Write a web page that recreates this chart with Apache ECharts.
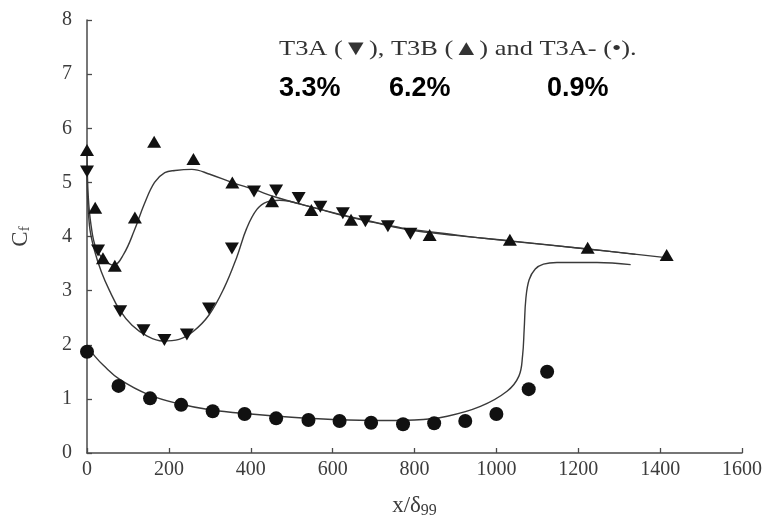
<!DOCTYPE html>
<html>
<head>
<meta charset="utf-8">
<script src="https://cdn.jsdelivr.net/npm/echarts@6/dist/echarts.min.js"></script>
<style>
  html, body { margin: 0; padding: 0; background: #fff; }
  #chart { width: 767px; height: 524px; }
</style>
</head>
<body>
<div id="chart"></div>
<script>
// Skin-friction coefficient along the plate, three inflow cases.
const xTicks = [0, 200, 400, 600, 800, 1000, 1200, 1400, 1600];
const yTicks = [0, 1, 2, 3, 4, 5, 6, 7, 8];

// Measured points [x/δ99, Cf]
const t3aPoints = [
  [0, 5.2], [27, 3.74], [81, 2.62], [138, 2.27], [189, 2.09], [244, 2.19],
  [298, 2.67], [354, 3.78], [408, 4.83], [462, 4.85], [517, 4.71], [570, 4.55],
  [625, 4.43], [680, 4.28], [735, 4.19], [790, 4.05]
];
const t3bPoints = [
  [0, 5.6], [20, 4.53], [39, 3.6], [68, 3.46], [117, 4.35], [164, 5.75],
  [260, 5.43], [355, 5.0], [452, 4.65], [548, 4.49], [645, 4.31], [837, 4.03],
  [1033, 3.94], [1223, 3.79], [1416, 3.66]
];
const t3amPoints = [
  [0, 1.87], [77, 1.24], [154, 1.01], [230, 0.89], [307, 0.77], [385, 0.72],
  [462, 0.64], [541, 0.61], [617, 0.59], [694, 0.56], [772, 0.53], [848, 0.55],
  [924, 0.59], [1000, 0.72], [1079, 1.18], [1124, 1.5]
];

// Computed curves [x/δ99, Cf]
const t3aCurve = [
  [0, 5.1], [6, 4.2], [18, 3.75], [35, 3.35], [55, 3.0], [80, 2.64],
  [110, 2.36], [145, 2.17], [185, 2.07], [225, 2.1], [260, 2.25], [298, 2.55],
  [335, 3.05], [365, 3.6], [390, 4.15], [415, 4.5], [440, 4.64], [470, 4.67],
  [540, 4.56], [618, 4.4], [700, 4.26], [782, 4.13], [900, 4.02], [1034, 3.92],
  [1222, 3.77], [1340, 3.67]
];
const t3bCurve = [
  [0, 5.55], [3, 4.75], [10, 4.2], [22, 3.78], [42, 3.57], [65, 3.47],
  [90, 3.68], [115, 4.1], [140, 4.6], [165, 5.0], [190, 5.18], [215, 5.22],
  [256, 5.24], [300, 5.15], [354, 5.0], [411, 4.86], [460, 4.73], [540, 4.56],
  [618, 4.41], [700, 4.27], [768, 4.16], [900, 4.03], [1026, 3.92], [1222, 3.77],
  [1425, 3.6]
];
const t3amCurve = [
  [0, 1.98], [20, 1.78], [40, 1.62], [80, 1.36], [150, 1.08], [230, 0.9],
  [300, 0.8], [400, 0.72], [500, 0.66], [600, 0.62], [716, 0.6], [800, 0.61],
  [880, 0.68], [961, 0.86], [1026, 1.14], [1055, 1.42], [1064, 1.8],
  [1068, 2.3], [1072, 2.85], [1080, 3.2], [1095, 3.4], [1115, 3.49],
  [1148, 3.52], [1246, 3.52], [1328, 3.48]
];

const legendLine = 'T3A (\u25BC), T3B (\u25B2) and T3A- (\u2022).';
const caseLabels = ['3.3%', '6.2%', '0.9%'];

const serif = '"Liberation Serif", "DejaVu Serif", serif';
const boldSans = 'bold 27px "Liberation Sans", Arial, sans-serif';
const ink = '#111';
const lineInk = '#3a3a3a';

const chart = echarts.init(document.getElementById('chart'), null, { renderer: 'canvas' });

function curveSeries(data) {
  return {
    type: 'line', data: data, smooth: 0.4,
    showSymbol: false, symbol: 'none', silent: true, z: 2, clip: true,
    lineStyle: { color: lineInk, width: 1.4 }
  };
}
function markerSeries(data, symbol, size, rotate) {
  return {
    type: 'scatter', data: data, symbol: symbol, symbolSize: size,
    symbolRotate: rotate || 0, z: 3,
    itemStyle: { color: ink, opacity: 1 }
  };
}
const plainNumber = function (v) { return String(v); };

chart.setOption({
  animation: false,
  backgroundColor: '#fff',
  grid: { left: 87, right: 25, top: 20, bottom: 69, containLabel: false },
  xAxis: {
    type: 'value', min: xTicks[0], max: xTicks[xTicks.length - 1], interval: 200,
    splitLine: { show: false },
    axisLine: { show: true, lineStyle: { color: '#4a4a4a', width: 1.5 } },
    axisTick: { show: true, inside: true, length: 5, lineStyle: { color: '#4a4a4a', width: 1.3 } },
    axisLabel: { color: '#3c3c3c', fontFamily: serif, fontSize: 20, margin: 7, formatter: plainNumber },
    name: '{a|x/\u03B4}{b|99}',
    nameLocation: 'middle', nameGap: 40,
    nameTextStyle: {
      rich: {
        a: { fontFamily: serif, fontSize: 23, color: '#3c3c3c' },
        b: { fontFamily: serif, fontSize: 16, color: '#3c3c3c', padding: [10, 0, 0, 0] }
      }
    }
  },
  yAxis: {
    type: 'value', min: yTicks[0], max: yTicks[yTicks.length - 1], interval: 1,
    splitLine: { show: false },
    axisLine: { show: true, lineStyle: { color: '#4a4a4a', width: 1.5 } },
    axisTick: { show: true, inside: true, length: 5, lineStyle: { color: '#4a4a4a', width: 1.3 } },
    axisLabel: { color: '#3c3c3c', fontFamily: serif, fontSize: 20, margin: 15, formatter: plainNumber },
    name: '{a|C}{b|f}',
    nameLocation: 'middle', nameGap: 54, nameRotate: 90,
    nameTextStyle: {
      rich: {
        a: { fontFamily: serif, fontSize: 23, color: '#3c3c3c' },
        b: { fontFamily: serif, fontSize: 15, color: '#3c3c3c', padding: [9, 0, 0, 0] }
      }
    }
  },
  graphic: [
    { type: 'text', x: 279, y: 38, scaleX: 1.2, silent: true,
      style: { text: legendLine, font: '22px ' + serif, fill: '#333' } },
    { type: 'text', left: 279, top: 75, silent: true,
      style: { text: caseLabels[0], font: boldSans, fill: '#000' } },
    { type: 'text', left: 389, top: 75, silent: true,
      style: { text: caseLabels[1], font: boldSans, fill: '#000' } },
    { type: 'text', left: 547, top: 75, silent: true,
      style: { text: caseLabels[2], font: boldSans, fill: '#000' } }
  ],
  series: [
    curveSeries(t3aCurve),
    curveSeries(t3bCurve),
    curveSeries(t3amCurve),
    markerSeries(t3aPoints, 'triangle', [14, 12], 180),
    markerSeries(t3bPoints, 'triangle', [14, 12], 0),
    markerSeries(t3amPoints, 'circle', 14)
  ]
});
</script>
</body>
</html>
